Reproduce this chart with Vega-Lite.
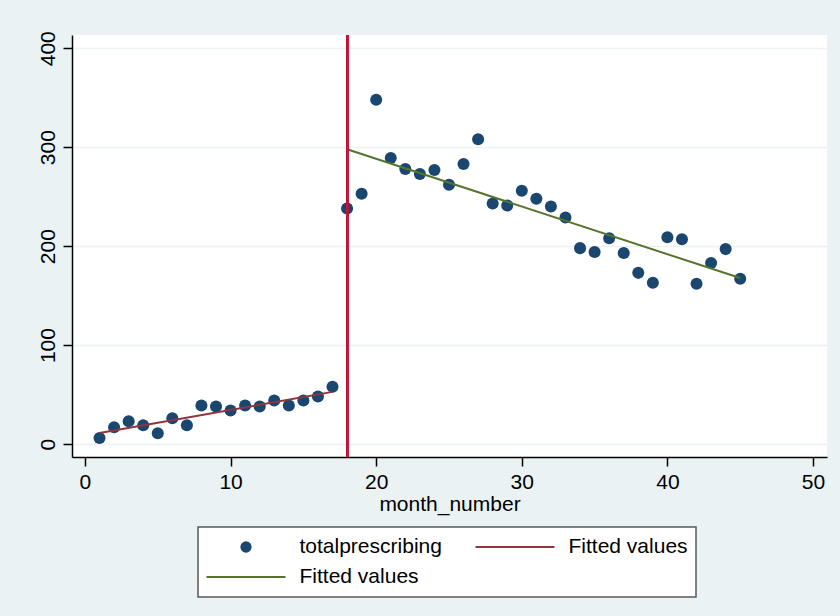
{
  "$schema": "https://vega.github.io/schema/vega-lite/v6.json",
  "autosize": "none",
  "width": 755,
  "height": 422,
  "padding": {"left": 72, "top": 35, "right": 13, "bottom": 159},
  "background": "#EAF2F3",
  "config": {
    "font": "Liberation Sans",
    "view": {"fill": "white", "stroke": null},
    "axis": {
      "domainColor": "black",
      "domainWidth": 1.5,
      "tickColor": "black",
      "tickWidth": 1.5,
      "tickSize": 9,
      "labelColor": "black",
      "labelFontSize": 21,
      "titleColor": "black",
      "titleFontSize": 21,
      "titleFontWeight": "normal",
      "labelFont": "Liberation Sans",
      "titleFont": "Liberation Sans"
    }
  },
  "data": {
    "values": [
      {"month_number": 1, "totalprescribing": 6},
      {"month_number": 2, "totalprescribing": 17},
      {"month_number": 3, "totalprescribing": 23},
      {"month_number": 4, "totalprescribing": 19},
      {"month_number": 5, "totalprescribing": 11},
      {"month_number": 6, "totalprescribing": 26},
      {"month_number": 7, "totalprescribing": 19},
      {"month_number": 8, "totalprescribing": 39},
      {"month_number": 9, "totalprescribing": 38},
      {"month_number": 10, "totalprescribing": 34},
      {"month_number": 11, "totalprescribing": 39},
      {"month_number": 12, "totalprescribing": 38},
      {"month_number": 13, "totalprescribing": 44},
      {"month_number": 14, "totalprescribing": 39},
      {"month_number": 15, "totalprescribing": 44},
      {"month_number": 16, "totalprescribing": 48},
      {"month_number": 17, "totalprescribing": 58},
      {"month_number": 18, "totalprescribing": 238},
      {"month_number": 19, "totalprescribing": 253},
      {"month_number": 20, "totalprescribing": 348},
      {"month_number": 21, "totalprescribing": 289},
      {"month_number": 22, "totalprescribing": 278},
      {"month_number": 23, "totalprescribing": 273},
      {"month_number": 24, "totalprescribing": 277},
      {"month_number": 25, "totalprescribing": 262},
      {"month_number": 26, "totalprescribing": 283},
      {"month_number": 27, "totalprescribing": 308},
      {"month_number": 28, "totalprescribing": 243},
      {"month_number": 29, "totalprescribing": 241},
      {"month_number": 30, "totalprescribing": 256},
      {"month_number": 31, "totalprescribing": 248},
      {"month_number": 32, "totalprescribing": 240},
      {"month_number": 33, "totalprescribing": 229},
      {"month_number": 34, "totalprescribing": 198},
      {"month_number": 35, "totalprescribing": 194},
      {"month_number": 36, "totalprescribing": 208},
      {"month_number": 37, "totalprescribing": 193},
      {"month_number": 38, "totalprescribing": 173},
      {"month_number": 39, "totalprescribing": 163},
      {"month_number": 40, "totalprescribing": 209},
      {"month_number": 41, "totalprescribing": 207},
      {"month_number": 42, "totalprescribing": 162},
      {"month_number": 43, "totalprescribing": 183},
      {"month_number": 44, "totalprescribing": 197},
      {"month_number": 45, "totalprescribing": 167}
    ]
  },
  "encoding": {
    "x": {
      "field": "month_number",
      "type": "quantitative",
      "scale": {"domain": [-0.89, 50.96], "nice": false, "zero": false},
      "axis": {
        "values": [0, 10, 20, 30, 40, 50],
        "grid": false,
        "title": "month_number",
        "labelPadding": 5,
        "titlePadding": 1
      }
    },
    "y": {
      "field": "totalprescribing",
      "type": "quantitative",
      "scale": {"domain": [-13.1, 413.4], "nice": false, "zero": false},
      "axis": {
        "values": [0, 100, 200, 300, 400],
        "grid": true,
        "gridColor": "#EAF2F3",
        "gridWidth": 1.5,
        "title": null,
        "labelAngle": -90,
        "labelAlign": "center",
        "labelBaseline": "alphabetic",
        "labelPadding": 9
      }
    }
  },
  "layer": [
    {
      "mark": {"type": "point", "filled": true, "size": 145, "opacity": 1, "shape": "circle"},
      "encoding": {
        "color": {
          "datum": "totalprescribing",
          "type": "nominal",
          "scale": {
            "domain": ["totalprescribing", "Fitted values A", "Fitted values B"],
            "range": ["#1A476F", "#90353B", "#55752F"]
          },
          "legend": {
            "title": null,
            "orient": "none",
            "legendX": 126,
            "legendY": 492,
            "columns": 2,
            "direction": "horizontal",
            "labelExpr": "datum.label == 'totalprescribing' ? datum.label : 'Fitted values'",
            "labelFontSize": 21,
            "labelColor": "black",
            "labelFont": "Liberation Sans",
            "symbolOffset": 29.5,
            "labelOffset": 43,
            "labelBaseline": "middle",
            "clipHeight": 24,
            "rowPadding": 6,
            "columnPadding": 33,
            "padding": 8,
            "fillColor": "white",
            "strokeColor": "#5a5a5a",
            "encoding": {
              "legend": {
                "strokeWidth": {"value": 1.5}
              },
              "symbols": {
                "shape": {"value": {"expr": "datum.value == 'totalprescribing' ? 'circle' : 'stroke'"}},
                "size": {"value": {"expr": "datum.value == 'totalprescribing' ? 127 : 6241"}},
                "fill": {"value": {"expr": "datum.value == 'totalprescribing' ? '#1A476F' : 'transparent'"}},
                "stroke": {"value": {"expr": "datum.value == 'totalprescribing' ? 'transparent' : (datum.value == 'Fitted values A' ? '#90353B' : '#55752F')"}},
                "strokeWidth": {"value": {"expr": "datum.value == 'totalprescribing' ? 0 : 2"}},
                "opacity": {"value": 1}
              }
            }
          }
        }
      }
    },
    {
      "transform": [
        {"filter": "datum.month_number <= 17"},
        {"regression": "totalprescribing", "on": "month_number"}
      ],
      "mark": {"type": "line", "strokeWidth": 2},
      "encoding": {
        "color": {"datum": "Fitted values A", "type": "nominal"}
      }
    },
    {
      "transform": [
        {"filter": "datum.month_number >= 18"},
        {"regression": "totalprescribing", "on": "month_number"}
      ],
      "mark": {"type": "line", "strokeWidth": 2},
      "encoding": {
        "color": {"datum": "Fitted values B", "type": "nominal"}
      }
    },
    {
      "mark": {"type": "rule", "color": "#C0143C", "strokeWidth": 2},
      "encoding": {
        "x": {"datum": 18},
        "y": null
      }
    }
  ]
}
